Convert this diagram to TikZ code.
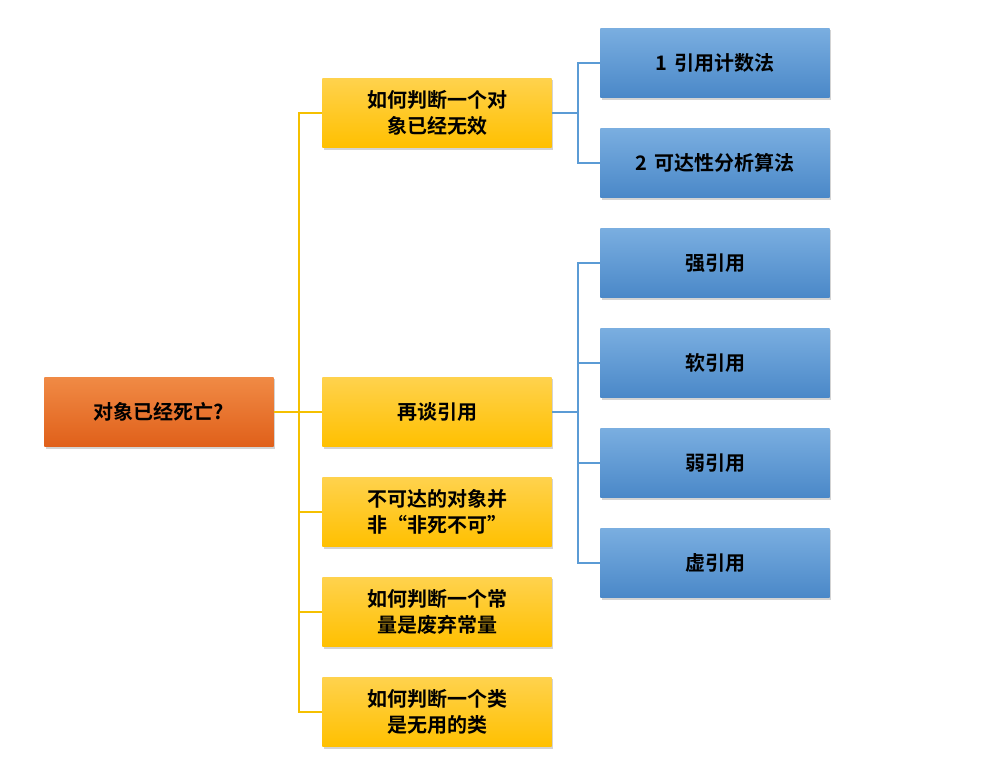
\documentclass[tikz,border=0pt]{standalone}
\usepackage{fontspec}
\newfontfamily\cjk{Noto Sans CJK SC}[BoldFont={Noto Sans CJK SC Bold}]
\usetikzlibrary{shadows}
\definecolor{yl}{HTML}{FFC000}
\definecolor{ylt}{HTML}{FFD24D}
\definecolor{bl}{HTML}{4A88C8}
\definecolor{blt}{HTML}{7AAEE0}
\definecolor{orb}{HTML}{E0601A}
\definecolor{ort}{HTML}{F08A45}
\definecolor{ylline}{HTML}{F5C000}
\definecolor{blline}{HTML}{5B9BD5}
\begin{document}
\begin{tikzpicture}[x=0.75pt,y=-0.75pt,
 box/.style={minimum width=172pt,minimum height=52pt,inner sep=2pt,align=center,
  font=\cjk\bfseries\fontsize{15}{19}\selectfont,text width=150pt,
  drop shadow={shadow xshift=1pt,shadow yshift=-1.5pt,opacity=0.35}},
 rootbox/.style={box,top color=ort,bottom color=orb},
 ybox/.style={box,top color=ylt,bottom color=yl},
 bbox/.style={box,top color=blt,bottom color=bl},
 yline/.style={ylline,line width=1pt},
 bline/.style={blline,line width=1pt}]
\useasboundingbox (0,0) rectangle (983,774);
\node[rootbox] (r) at (159,412) {对象已经死亡?};
\node[ybox] (y1) at (437,113) {如何判断一个对\\象已经无效};
\node[ybox] (y2) at (437,412) {再谈引用};
\node[ybox] (y3) at (437,512) {不可达的对象并\\非“非死不可”};
\node[ybox] (y4) at (437,612) {如何判断一个常\\量是废弃常量};
\node[ybox] (y5) at (437,712) {如何判断一个类\\是无用的类};
\node[bbox] (b1) at (715,63) {1 引用计数法};
\node[bbox] (b2) at (715,163) {2 可达性分析算法};
\node[bbox] (b3) at (715,263) {强引用};
\node[bbox] (b4) at (715,363) {软引用};
\node[bbox] (b5) at (715,463) {弱引用};
\node[bbox] (b6) at (715,563) {虚引用};
\coordinate (t) at (299,412);
\draw[yline] (r.east) -- (t);
\foreach \n in {y1,y2,y3,y4,y5} \draw[yline] (t) |- (\n.west);
\coordinate (u) at (578,113);
\draw[bline] (y1.east) -- (u);
\foreach \n in {b1,b2} \draw[bline] (u) |- (\n.west);
\coordinate (v) at (578,412);
\draw[bline] (y2.east) -- (v);
\foreach \n in {b3,b4,b5,b6} \draw[bline] (v) |- (\n.west);
\end{tikzpicture}
\end{document}
